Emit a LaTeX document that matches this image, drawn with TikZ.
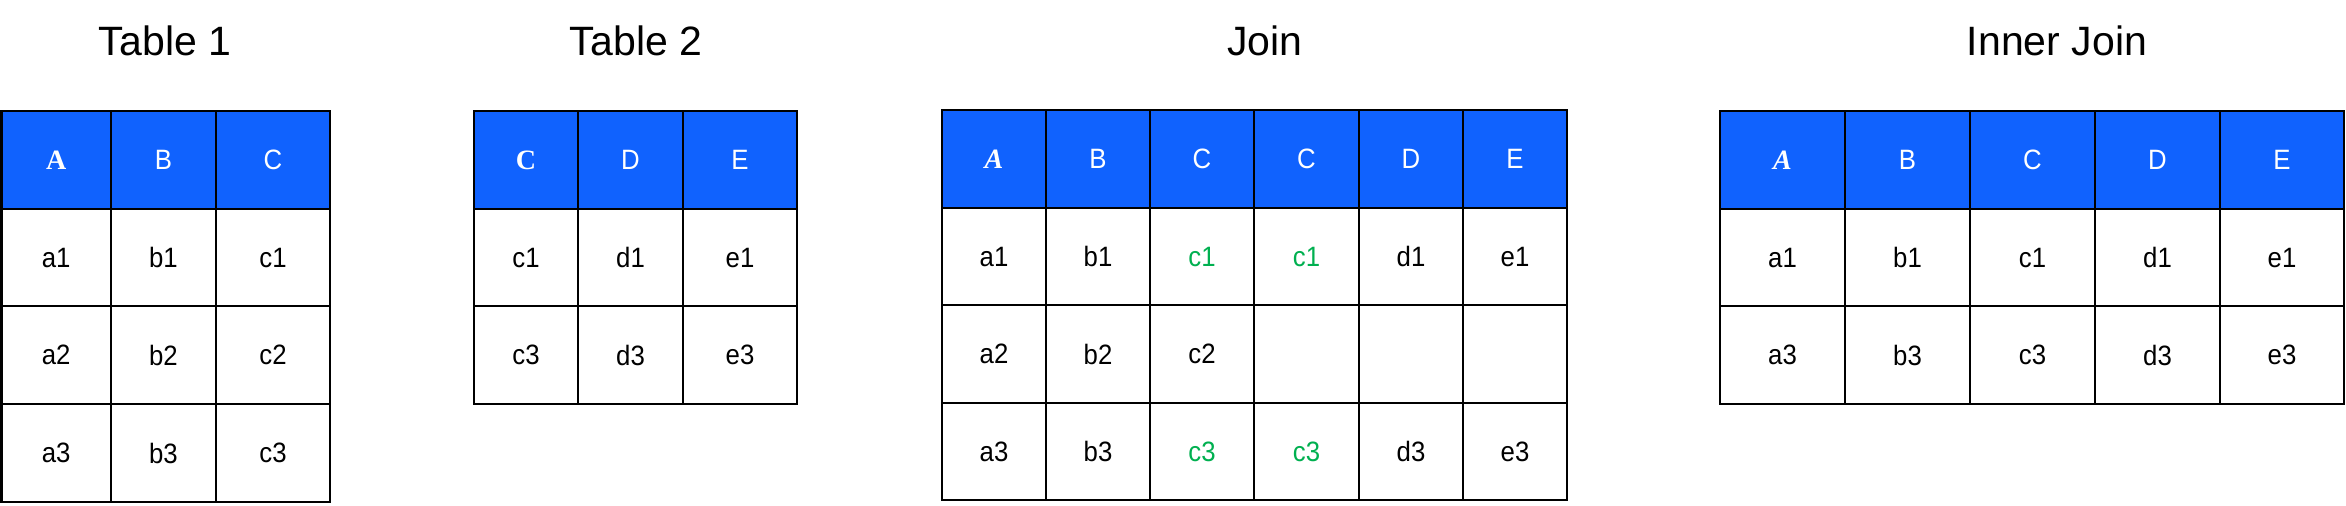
\documentclass[tikz,border=0pt]{standalone}
\usepackage{fontspec}
\setmainfont{Liberation Sans}[FakeStretch=0.92]
\newfontfamily\titlefont{Liberation Sans}
\newfontfamily\serifhdr{Liberation Serif}
\definecolor{hdrblue}{HTML}{1062FE}
\definecolor{matchgreen}{HTML}{00B050}
\newcommand\mkcell[7]{%
  \node[#6, minimum width={(#3-#2)*0.5pt}, minimum height={(#5-#4)*0.5pt}]
    (#1) at ({(#2+#3)/2},{(#4+#5)/2}) {#7};}
\tikzset{
  cellbox/.style={draw=black, line width=1.2pt, inner sep=0pt, outer sep=0pt,
    rectangle, font=\fontsize{14pt}{16pt}\selectfont, text=black, fill=white},
  hdrbox/.style={cellbox, fill=hdrblue, text=white},
  title/.style={anchor=base, inner sep=0pt, font=\titlefont\fontsize{20.5pt}{24pt}\selectfont},
  green/.style={text=matchgreen}
}
\begin{document}
\begin{tikzpicture}[x=0.5pt, y=-0.5pt]
\useasboundingbox (0,0) rectangle (2346,505);

% titles
\node[title] (tt1) at (165,55) {Table 1};
\node[title] (tt2) at (636,55) {Table 2};
\node[title] (tt3) at (1265,55) {Join};
\node[title] (tt4) at (2057,55) {Inner Join};

% Table 1
\mkcell{t1h1}{1.5}{111}{111}{209}{hdrbox}{\serifhdr\bfseries A}
\mkcell{t1h2}{111}{216}{111}{209}{hdrbox}{B}
\mkcell{t1h3}{216}{330}{111}{209}{hdrbox}{C}
\mkcell{t1a1}{1.5}{111}{209}{306}{cellbox}{a1}
\mkcell{t1b1}{111}{216}{209}{306}{cellbox}{b1}
\mkcell{t1c1}{216}{330}{209}{306}{cellbox}{c1}
\mkcell{t1a2}{1.5}{111}{306}{404}{cellbox}{a2}
\mkcell{t1b2}{111}{216}{306}{404}{cellbox}{b2}
\mkcell{t1c2}{216}{330}{306}{404}{cellbox}{c2}
\mkcell{t1a3}{1.5}{111}{404}{502}{cellbox}{a3}
\mkcell{t1b3}{111}{216}{404}{502}{cellbox}{b3}
\mkcell{t1c3}{216}{330}{404}{502}{cellbox}{c3}

% Table 2
\mkcell{t2h1}{474}{578}{111}{209}{hdrbox}{\serifhdr\bfseries C}
\mkcell{t2h2}{578}{683}{111}{209}{hdrbox}{D}
\mkcell{t2h3}{683}{797}{111}{209}{hdrbox}{E}
\mkcell{t2c1}{474}{578}{209}{306}{cellbox}{c1}
\mkcell{t2d1}{578}{683}{209}{306}{cellbox}{d1}
\mkcell{t2e1}{683}{797}{209}{306}{cellbox}{e1}
\mkcell{t2c3}{474}{578}{306}{404}{cellbox}{c3}
\mkcell{t2d3}{578}{683}{306}{404}{cellbox}{d3}
\mkcell{t2e3}{683}{797}{306}{404}{cellbox}{e3}

% Join
\mkcell{jh1}{942}{1046}{110}{208}{hdrbox}{\serifhdr\bfseries\itshape A}
\mkcell{jh2}{1046}{1150}{110}{208}{hdrbox}{B}
\mkcell{jh3}{1150}{1254}{110}{208}{hdrbox}{C}
\mkcell{jh4}{1254}{1359}{110}{208}{hdrbox}{C}
\mkcell{jh5}{1359}{1463}{110}{208}{hdrbox}{D}
\mkcell{jh6}{1463}{1567}{110}{208}{hdrbox}{E}
\mkcell{ja1}{942}{1046}{208}{305}{cellbox}{a1}
\mkcell{jb1}{1046}{1150}{208}{305}{cellbox}{b1}
\mkcell{jc1}{1150}{1254}{208}{305}{cellbox,green}{c1}
\mkcell{jcc1}{1254}{1359}{208}{305}{cellbox,green}{c1}
\mkcell{jd1}{1359}{1463}{208}{305}{cellbox}{d1}
\mkcell{je1}{1463}{1567}{208}{305}{cellbox}{e1}
\mkcell{ja2}{942}{1046}{305}{403}{cellbox}{a2}
\mkcell{jb2}{1046}{1150}{305}{403}{cellbox}{b2}
\mkcell{jc2}{1150}{1254}{305}{403}{cellbox}{c2}
\mkcell{jcc2}{1254}{1359}{305}{403}{cellbox}{}
\mkcell{jd2}{1359}{1463}{305}{403}{cellbox}{}
\mkcell{je2}{1463}{1567}{305}{403}{cellbox}{}
\mkcell{ja3}{942}{1046}{403}{500}{cellbox}{a3}
\mkcell{jb3}{1046}{1150}{403}{500}{cellbox}{b3}
\mkcell{jc3}{1150}{1254}{403}{500}{cellbox,green}{c3}
\mkcell{jcc3}{1254}{1359}{403}{500}{cellbox,green}{c3}
\mkcell{jd3}{1359}{1463}{403}{500}{cellbox}{d3}
\mkcell{je3}{1463}{1567}{403}{500}{cellbox}{e3}

% Inner Join
\mkcell{ih1}{1720}{1845}{111}{209}{hdrbox}{\serifhdr\bfseries\itshape A}
\mkcell{ih2}{1845}{1970}{111}{209}{hdrbox}{B}
\mkcell{ih3}{1970}{2095}{111}{209}{hdrbox}{C}
\mkcell{ih4}{2095}{2220}{111}{209}{hdrbox}{D}
\mkcell{ih5}{2220}{2344}{111}{209}{hdrbox}{E}
\mkcell{ia1}{1720}{1845}{209}{306}{cellbox}{a1}
\mkcell{ib1}{1845}{1970}{209}{306}{cellbox}{b1}
\mkcell{ic1}{1970}{2095}{209}{306}{cellbox}{c1}
\mkcell{id1}{2095}{2220}{209}{306}{cellbox}{d1}
\mkcell{ie1}{2220}{2344}{209}{306}{cellbox}{e1}
\mkcell{ia3}{1720}{1845}{306}{404}{cellbox}{a3}
\mkcell{ib3}{1845}{1970}{306}{404}{cellbox}{b3}
\mkcell{ic3}{1970}{2095}{306}{404}{cellbox}{c3}
\mkcell{id3}{2095}{2220}{306}{404}{cellbox}{d3}
\mkcell{ie3}{2220}{2344}{306}{404}{cellbox}{e3}
\end{tikzpicture}
\end{document}
